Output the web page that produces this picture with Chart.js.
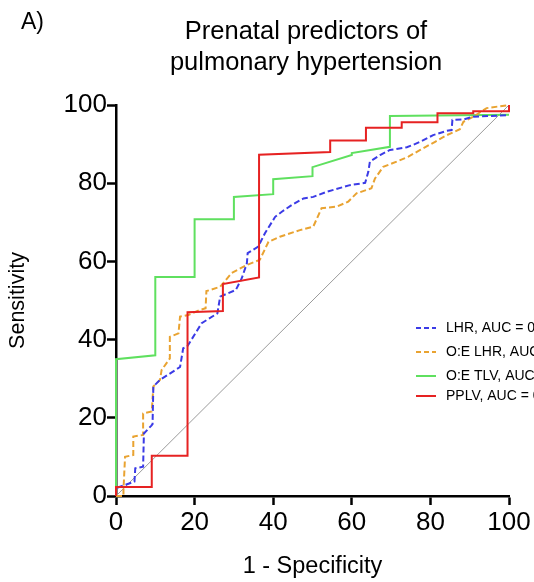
<!DOCTYPE html>
<html><head><meta charset="utf-8">
<script src="https://cdn.jsdelivr.net/npm/chart.js@4.4.1/dist/chart.umd.min.js"></script>
<style>html,body{margin:0;padding:0;background:#fff}#wrap{width:534px;height:582px;position:relative}</style>
</head><body><div id="wrap"><canvas id="c" width="534" height="582"></canvas></div>
<script>
const panelLabel = "A)";
const titleLines = ["Prenatal predictors of", "pulmonary hypertension"];
const xTitle = "1 - Specificity";
const yTitle = "Sensitivity";
const tickValues = [0, 20, 40, 60, 80, 100];
const seriesLabels = ["LHR, AUC = 0", "O:E LHR, AUC =", "O:E TLV, AUC =", "PPLV, AUC = 0"];

const lhrPoints = [[0,0],[0,2],[4.7,3.7],[4.9,7.1],[6.9,7.5],[7.1,16],[9,18],[9.3,18.4],[9.5,28],[11.2,29.7],[16.3,33],[17.1,37.8],[18.1,38.2],[21.8,44.2],[25.8,46.7],[26.5,51],[30.5,52.7],[32,55.7],[33.3,59.5],[33.5,62.1],[36.2,63.8],[37.9,67.2],[40.5,71.4],[42.2,72.7],[44.7,74.4],[47.7,76.1],[50.2,76.5],[53.6,77.8],[59.5,79.5],[63.4,80.1],[64.2,82.9],[64.6,85.5],[67.2,87.2],[69.7,88.5],[74,89.2],[75.6,89.8],[77.4,90.6],[80.7,92.3],[84.2,93.4],[85.4,93.6],[85.6,96.2],[88.4,96.3],[90.9,97],[100,97.4]];
const oeLhrPoints = [[0,0],[1.9,0],[1.9,1.5],[2.3,10],[4.4,10.5],[4.4,15.2],[6.9,15.6],[6.9,21.1],[9.1,21.6],[9.5,28],[11.2,29.7],[11.6,32.2],[13.7,35.2],[13.7,40.7],[15.9,41.6],[16.3,45.9],[18.4,46.3],[21.4,47.6],[22.8,48],[23,52.4],[26.5,53.5],[29.4,57],[33.3,59.1],[36.6,60.4],[38.8,65],[41.7,66.3],[46.8,68],[50.2,68.9],[52.3,73.6],[56.2,74],[59.1,75.3],[61.2,77.4],[65,78.7],[65.9,81.2],[68,84.2],[71.4,85.5],[74.4,86.8],[77.4,88.5],[81.2,90.6],[84.2,92.3],[87.5,93.8],[88.4,95.7],[90.9,97],[94.3,99.2],[100,100]];
const oeTlvPoints = [[0,0],[0,35],[10,36],[10,56],[20,56],[20,70.8],[30,70.8],[30,76.5],[40,77.2],[40,81],[50,81.8],[50,84.1],[60,87.2],[60,87.7],[69.7,89.3],[69.7,97.2],[100,97.5]];
const pplvPoints = [[0,0],[0,2.3],[9.1,2.3],[9.1,10.3],[18.2,10.3],[18.2,47],[27.2,47.3],[27.2,54.2],[36.4,55.9],[36.4,87.3],[54.5,88],[54.5,90.9],[63.6,90.9],[63.6,94.2],[72.7,94.2],[72.7,95.6],[81.8,95.6],[81.8,97.9],[90.9,97.9],[90.9,98.4],[100,98.4],[100,100]];
const referencePoints = [[0,0],[100,100]];

const FONT = "'Liberation Sans', Arial, Helvetica, sans-serif";
Chart.defaults.font.family = FONT;
Chart.defaults.color = '#000';

const toXY = pts => pts.map(p => ({x: p[0], y: p[1]}));

const seriesStyles = [
  {color: '#3b3be6', dash: [6, 3], order: 1},
  {color: '#e9a331', dash: [6, 3], order: 2},
  {color: '#5fe05f', dash: [], order: 3},
  {color: '#e62222', dash: [], order: 0}
];
const seriesPoints = [lhrPoints, oeLhrPoints, oeTlvPoints, pplvPoints];

const datasets = seriesPoints.map((pts, i) => ({
  label: seriesLabels[i],
  data: toXY(pts),
  showLine: true,
  borderColor: seriesStyles[i].color,
  borderDash: seriesStyles[i].dash,
  borderWidth: 2,
  pointRadius: 0,
  fill: false,
  tension: 0,
  clip: 5,
  order: seriesStyles[i].order
}));
datasets.push({
  label: 'reference',
  data: toXY(referencePoints),
  showLine: true,
  borderColor: '#9a9a9a',
  borderWidth: 1,
  pointRadius: 0,
  fill: false,
  clip: 5,
  order: 9
});

const decorPlugin = {
  id: 'decor',
  afterDraw(chart) {
    const ctx = chart.ctx;
    ctx.save();
    ctx.fillStyle = '#000';
    ctx.textBaseline = 'middle';
    ctx.font = '23px ' + FONT;
    ctx.textAlign = 'left';
    ctx.fillText(panelLabel, 21, 23);
    ctx.font = '25.5px ' + FONT;
    ctx.textAlign = 'center';
    ctx.fillText(titleLines[0], 306, 32);
    ctx.fillText(titleLines[1], 306, 63);
    // legend
    const rows = [328, 352, 376, 396];
    ctx.font = '14px ' + FONT;
    ctx.textAlign = 'left';
    for (let i = 0; i < seriesLabels.length; i++) {
      const y = rows[i];
      ctx.beginPath();
      ctx.strokeStyle = seriesStyles[i].color;
      ctx.lineWidth = 2;
      ctx.setLineDash(seriesStyles[i].dash.length ? [5, 3] : []);
      ctx.moveTo(416, y);
      ctx.lineTo(436, y);
      ctx.stroke();
      ctx.setLineDash([]);
      ctx.fillStyle = '#000';
      ctx.fillText(seriesLabels[i], 446, y);
    }
    ctx.restore();
  }
};

new Chart(document.getElementById('c'), {
  type: 'scatter',
  data: {datasets},
  options: {
    responsive: false,
    animation: false,
    layout: {padding: {top: 105, right: 25, bottom: 0, left: 0}},
    plugins: {legend: {display: false}, title: {display: false}, tooltip: {enabled: false}},
    scales: {
      x: {
        type: 'linear', min: 0, max: 100,
        afterBuildTicks: s => { s.ticks = tickValues.map(v => ({value: v})); },
        ticks: {color: '#000', font: {size: 26}, padding: 2, maxRotation: 0, autoSkip: false},
        grid: {display: true, drawOnChartArea: false, drawTicks: true, tickLength: 9, tickColor: '#000', tickWidth: 2.5},
        border: {display: true, color: '#000', width: 2.5},
        title: {display: true, text: xTitle, color: '#000', font: {size: 23.5}, padding: {top: 0, bottom: 1}},
        afterFit: s => { s.height = 86; }
      },
      y: {
        type: 'linear', min: 0, max: 100,
        afterBuildTicks: s => { s.ticks = tickValues.map(v => ({value: v})); },
        ticks: {color: '#000', font: {size: 26}, padding: 0, autoSkip: false},
        grid: {display: true, drawOnChartArea: false, drawTicks: true, tickLength: 9, tickColor: '#000', tickWidth: 2.5},
        border: {display: true, color: '#000', width: 2.5},
        title: {display: true, text: yTitle, color: '#000', font: {size: 21.5}, padding: {top: 5, bottom: 0}},
        afterFit: s => { s.width = 116; }
      }
    }
  },
  plugins: [decorPlugin]
});
</script></body></html>
